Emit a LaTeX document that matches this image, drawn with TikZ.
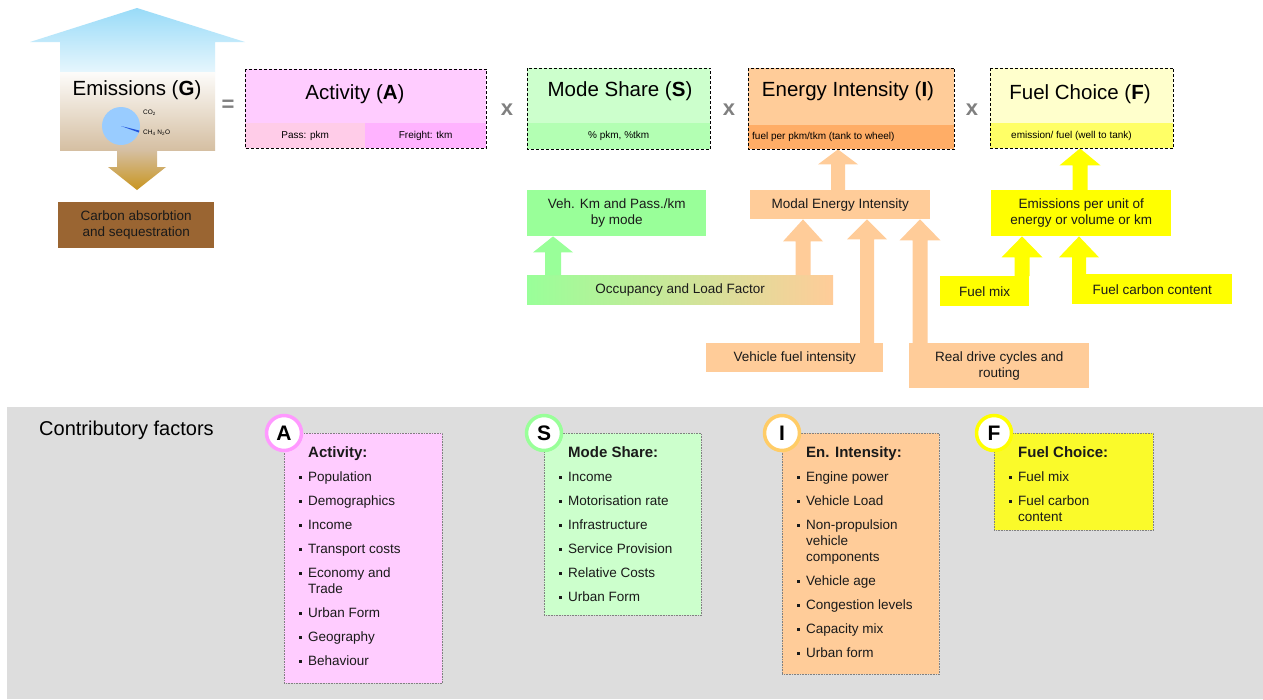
\documentclass[tikz,border=0pt]{standalone}
\usepackage{fontspec}
\setmainfont{Liberation Sans}
\usetikzlibrary{calc}
\definecolor{pinkT}{HTML}{FFCCFF}
\definecolor{pinkL}{HTML}{FFCCE8}
\definecolor{pinkR}{HTML}{FFB3FF}
\definecolor{greenT}{HTML}{CCFFCC}
\definecolor{greenB}{HTML}{B3FFB3}
\definecolor{orangeT}{HTML}{FFCC99}
\definecolor{orangeB}{HTML}{FFAD66}
\definecolor{yellowT}{HTML}{FFFFCC}
\definecolor{yellowB}{HTML}{FFFF66}
\definecolor{greenM}{HTML}{99FF99}
\definecolor{orangeM}{HTML}{FFCC99}
\definecolor{yellowM}{HTML}{FFFF00}
\definecolor{panel}{HTML}{DDDDDD}
\definecolor{skyA}{HTML}{99DBF8}
\definecolor{skyB}{HTML}{E6F6FD}
\definecolor{tanA}{HTML}{FDFCFA}
\definecolor{tanB}{HTML}{D5BFA2}
\definecolor{goldB}{HTML}{C8951F}
\definecolor{brownC}{HTML}{9A6532}
\definecolor{pieA}{HTML}{99CCFF}
\definecolor{pieB}{HTML}{2255DD}
\definecolor{ringA}{HTML}{FF99FF}
\definecolor{ringS}{HTML}{99FF99}
\definecolor{ringI}{HTML}{FFCC66}
\definecolor{ringF}{HTML}{FFFF00}
\definecolor{boxF}{HTML}{FAFA2A}
\definecolor{grayX}{HTML}{808080}
\definecolor{txt}{HTML}{1A1A1A}

\newcommand\fsz[2]{\fontsize{#1}{#2}\selectfont}
\newcommand\bul{\makebox[9pt][l]{\raisebox{2.5pt}{\rule{3pt}{3pt}}}}
\newcommand\bulind{\hspace*{9pt}}
% #1 style, #2 x centre, #3 shaft half width, #4 head half width, #5 head length, #6 from, #7 to
\newcommand\blkarrow[7]{%
  \fill[#1] let \p1=(#6), \p2=(#7) in
    ({(#2-#3)*1pt},\y1) -- ({(#2-#3)*1pt},{\y2-#5*1pt}) -- ({(#2-#4)*1pt},{\y2-#5*1pt})
    -- ({#2*1pt},\y2) -- ({(#2+#4)*1pt},{\y2-#5*1pt}) -- ({(#2+#3)*1pt},{\y2-#5*1pt})
    -- ({(#2+#3)*1pt},\y1) -- cycle;}

\begin{document}
\begin{tikzpicture}[x=1pt,y=-1pt,
  mbox/.style={anchor=north west, inner sep=0pt, align=center, font=\fsz{13.5}{16}, text=txt},
  tbg/.style={anchor=north west, inner sep=0pt},
  tband/.style={anchor=north west, inner sep=0pt, font=\fsz{10}{12}},
  btext/.style={anchor=west, inner sep=0pt, font=\fsz{10}{12}},
  ttl/.style={font=\fsz{20.5}{24}, inner sep=0pt},
  tdash/.style={draw=black, line width=0.8pt, dash pattern=on 3pt off 2pt},
  opsym/.style={font=\bfseries\fsz{22}{24}, text=grayX, inner sep=0pt},
  lbox/.style={anchor=north west, inner sep=0pt, draw=gray, line width=0.6pt, dash pattern=on 0.8pt off 0.8pt},
  ring/.style={circle, fill=white, line width=3.5pt, minimum size=35pt, inner sep=0pt, font=\bfseries\fsz{21}{22}},
  list/.style={anchor=north west, inner sep=0pt, align=left, font=\fsz{13.5}{16}, text=txt},
  tiny/.style={anchor=west, inner sep=0pt, font=\fsz{6.5}{7}}
]
\useasboundingbox (0,0) rectangle (1263,699);
\fill[white] (0,0) rectangle (1263,699);

% ---------- Emissions graphic ----------
\shade[top color=skyA, bottom color=skyB] (30,42) -- (137,8) -- (245,42) -- (215,42) -- (215,72) -- (60,72) -- (60,42) -- cycle;
\node[tbg, minimum width=155pt, minimum height=78pt, top color=tanA, bottom color=tanB] (emis) at (60,72) {};
\shade[top color=tanB, bottom color=goldB] (117,150) -- (157,150) -- (157,167) -- (166,167) -- (137,190) -- (108,167) -- (117,167) -- cycle;
\node[ttl] (emist) at (137,90) {Emissions (\textbf{G})};
\fill[pieA] (121,126) circle[radius=19pt];
\fill[pieB] (121,126) -- ++(-14:19pt) arc[start angle=-14, end angle=-20, radius=19pt] -- cycle;
\node[tiny] (co2) at (143,113) {CO\textsubscript{2}};
\node[tiny] (ch4) at (143,133) {CH\textsubscript{4} N\textsubscript{2}O};
\node[tbg, fill=brownC, minimum width=156pt, minimum height=46pt, align=center, font=\fsz{13.5}{16}, text=txt] (carb) at (58,202) {Carbon absorbtion\\and sequestration};

% ---------- operators ----------
\node[opsym] (eq) at (228,106) {=};
\node[opsym] (x1) at (507,110) {x};
\node[opsym] (x2) at (729,110) {x};
\node[opsym] (x3) at (972,110) {x};

% ---------- middle boxes ----------
\node[tbg, minimum width=306pt, minimum height=29pt, left color=greenM, right color=orangeM, font=\fsz{13.5}{16}, text=txt] (occ) at (527,275) {Occupancy and Load Factor};
\node[mbox, fill=greenM, minimum width=179pt, minimum height=46pt] (veh) at (527,190) {Veh. Km and Pass./km\\by mode};
\node[mbox, fill=orangeM, minimum width=180pt, minimum height=29pt] (modal) at (750,190) {Modal Energy Intensity};
\node[mbox, fill=orangeM, minimum width=177pt, minimum height=29pt] (vfi) at (706,343) {Vehicle fuel intensity};
\node[mbox, fill=orangeM, minimum width=180pt, minimum height=45pt] (real) at (909,343) {Real drive cycles and\\routing};
\node[mbox, fill=yellowM, minimum width=180pt, minimum height=46pt] (epu) at (991,190) {Emissions per unit of\\energy or volume or km};
\node[mbox, fill=yellowM, minimum width=89pt, minimum height=30pt] (fmix) at (940,276) {Fuel mix};
\node[mbox, fill=yellowM, minimum width=160pt, minimum height=30pt] (fcc) at (1072,274) {Fuel carbon content};

\blkarrow{greenM}{553}{8}{20}{16}{occ.north}{veh.south}
\blkarrow{orangeM}{803}{7.5}{20}{22}{occ.north}{modal.south}
\blkarrow{orangeM}{867}{7}{20}{20}{vfi.north}{modal.south}
\blkarrow{orangeM}{920}{7.5}{20.5}{21}{real.north}{modal.south}
\blkarrow{yellowM}{1022}{7.5}{20.5}{21}{fmix.north}{epu.south}
\blkarrow{yellowM}{1079}{7}{20}{21}{fcc.north}{epu.south}

% ---------- title boxes ----------
% Activity
\node[tbg, fill=pinkT, minimum width=241pt, minimum height=79pt] (act) at (245,69) {};
\node[tband, fill=pinkL, minimum width=120pt, minimum height=25pt] (actp) at (245,123) {Pass: pkm};
\node[tband, fill=pinkR, minimum width=121pt, minimum height=25pt] (actf) at (365,123) {Freight: tkm};
\draw[tdash] (act.north west) rectangle (act.south east);
\node[ttl] (actt) at (355,94) {Activity (\textbf{A})};
% Mode share
\node[tbg, fill=greenT, minimum width=183pt, minimum height=81pt] (mode) at (527,68) {};
\node[tband, fill=greenB, minimum width=183pt, minimum height=26pt] (modeb) at (527,123) {\% pkm, \%tkm};
\draw[tdash] (mode.north west) rectangle (mode.south east);
\node[ttl] (modet) at (620,91) {Mode Share (\textbf{S})};
% Energy intensity
\node[tbg, fill=orangeT, minimum width=206pt, minimum height=81pt] (energy) at (748,68) {};
\node[tbg, fill=orangeB, minimum width=206pt, minimum height=24pt] (energyb) at (748,125) {};
\node[btext] (energybt) at (752,136.5) {fuel per pkm/tkm (tank to wheel)};
\node[ttl] (energyt) at (848,91) {Energy Intensity (\textbf{I})};
\blkarrow{orangeM}{838}{7}{20}{15}{modal.north}{energy.south}
\draw[tdash] (energy.north west) rectangle (energy.south east);
% Fuel choice
\node[tbg, fill=yellowT, minimum width=183pt, minimum height=80pt] (fuel) at (990,68) {};
\node[tbg, fill=yellowB, minimum width=183pt, minimum height=25pt] (fuelb) at (990,123) {};
\node[btext] (fuelbt) at (1011,135.5) {emission/ fuel (well to tank)};
\node[ttl] (fuelt) at (1080,94) {Fuel Choice (\textbf{F})};
\blkarrow{yellowM}{1080}{7.5}{20.5}{17}{epu.north}{fuel.south}
\draw[tdash] (fuel.north west) rectangle (fuel.south east);

% ---------- contributory factors ----------
\node[tbg, fill=panel, minimum width=1256pt, minimum height=292pt] (pnl) at (7,407) {};
\node[anchor=west, inner sep=0pt, font=\fsz{20}{24}] (cf) at (39,430) {Contributory factors};

\node[lbox, fill=pinkT, minimum width=158pt, minimum height=250pt] (boxa) at (284,433) {};
\node[lbox, fill=greenT, minimum width=157pt, minimum height=182pt] (boxs) at (544,433) {};
\node[lbox, fill=orangeT, minimum width=157pt, minimum height=241pt] (boxi) at (782,433) {};
\node[lbox, fill=boxF, minimum width=159pt, minimum height=97pt] (boxf) at (994,433) {};

\node[ring, draw=ringA] (ra) at (boxa.north west) {A};
\node[ring, draw=ringS] (rs) at (boxs.north west) {S};
\node[ring, draw=ringI] (ri) at (boxi.north west) {I};
\node[ring, draw=ringF] (rf) at (boxf.north west) {F};

\node[list] (la) at (299,446) {\bulind{\bfseries\fsz{15}{16}Activity:}\\[8pt]
\bul Population\\[8pt]
\bul Demographics\\[8pt]
\bul Income\\[8pt]
\bul Transport costs\\[8pt]
\bul Economy and\\\bulind Trade\\[8pt]
\bul Urban Form\\[8pt]
\bul Geography\\[8pt]
\bul Behaviour};

\node[list] (ls) at (559,446) {\bulind{\bfseries\fsz{15}{16}Mode Share:}\\[8pt]
\bul Income\\[8pt]
\bul Motorisation rate\\[8pt]
\bul Infrastructure\\[8pt]
\bul Service Provision\\[8pt]
\bul Relative Costs\\[8pt]
\bul Urban Form};

\node[list] (li) at (797,446) {\bulind{\bfseries\fsz{15}{16}En. Intensity:}\\[8pt]
\bul Engine power\\[8pt]
\bul Vehicle Load\\[8pt]
\bul Non-propulsion\\\bulind vehicle\\\bulind components\\[8pt]
\bul Vehicle age\\[8pt]
\bul Congestion levels\\[8pt]
\bul Capacity mix\\[8pt]
\bul Urban form};

\node[list] (lf) at (1009,446) {\bulind{\bfseries\fsz{15}{16}Fuel Choice:}\\[8pt]
\bul Fuel mix\\[8pt]
\bul Fuel carbon\\\bulind content};
\end{tikzpicture}
\end{document}
